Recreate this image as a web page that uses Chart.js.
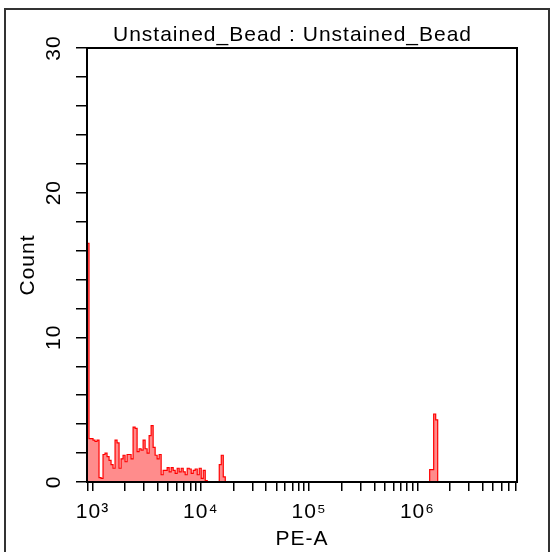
<!DOCTYPE html>
<html lang="en">
<head>
<meta charset="utf-8">
<title>Unstained_Bead : Unstained_Bead</title>
<script src="https://cdn.jsdelivr.net/npm/chart.js@4.4.1/dist/chart.umd.min.js"></script>
<style>
  html, body { margin: 0; padding: 0; background: #fff; }
  canvas { display: block; }
</style>
</head>
<body>
<canvas id="hist" width="552" height="552"></canvas>
<script>
// PE-A axis is log scaled, channels are equal steps in log10
const xMin = 890;
const xMax = 8.3e6;
const chanStart = 2.9494;   // log10 of first channel edge
const chanWidth = 0.0185;   // decades per channel

// counts per channel, three populated regions
const lowStart = 0;
const lowCounts = [16.5, 3.0, 3.0, 2.9, 2.8, 2.9, 0.3, 0.25, 1.9, 2.0,
                   1.75, 1.5, 1.2, 0.95, 2.9, 2.7, 0.95, 1.6, 1.85, 1.4,
                   1.9, 1.9, 1.6, 3.8, 3.7, 2.1, 2.3, 2.2, 2.9, 2.3,
                   2.0, 3.2, 3.9, 2.4, 1.85, 1.6, 1.9, 0.5, 0.8, 0.8,
                   1.0, 0.7, 1.0, 0.8, 0.6, 0.95, 0.7, 0.95, 0.7, 0.5,
                   0.95, 0.9, 0.6, 0.8, 0.9, 0.5, 0.95, 0.25, 0.8, 0.1];
const midStart = 66;
const midCounts = [1.2, 1.85, 0.35];
const highStart = 171;
const highCounts = [0.85, 0.85, 4.7, 4.3];

// axis ticks
const xDecades = [3, 4, 5, 6];
const xTickLabels = ['10³', '10⁴', '10⁵', '10⁶'];
const yTickValues = [0, 2, 4, 6, 8, 10, 12, 14, 16, 18, 20, 22, 24, 26, 28, 30];
const yLabelValues = [0, 10, 20, 30];

const FONT = '"Liberation Sans", Arial, sans-serif';
Chart.defaults.font.family = FONT;
Chart.defaults.font.size = 21;
Chart.defaults.color = '#000';

function edge(ch) { return Math.pow(10, chanStart + ch * chanWidth); }

var points = [];
function addGroup(start, counts) {
  counts.forEach(function (c, i) { points.push({x: edge(start + i), y: c}); });
  points.push({x: edge(start + counts.length), y: 0});
}
addGroup(lowStart, lowCounts);
addGroup(midStart, midCounts);
addGroup(highStart, highCounts);
points.push({x: xMax, y: 0});

// minor log ticks 1..9 x 10^n inside the range
var xTickValues = [];
for (var d = 2; d <= 6; d++) {
  for (var k = 1; k <= 9; k++) {
    var v = k * Math.pow(10, d);
    if (v >= xMin && v <= xMax) xTickValues.push(v);
  }
}

const frame = {
  id: 'frame',
  beforeUpdate(chart) { chart.ctx.letterSpacing = '1px'; },
  beforeDraw(chart) {
    const ctx = chart.ctx;
    ctx.letterSpacing = '1px';
    ctx.save();
    ctx.strokeStyle = '#333';
    ctx.lineWidth = 2;
    ctx.strokeRect(5, 9, 544, 560);
    ctx.fillStyle = '#000';
    ctx.font = '21px ' + FONT;
    ctx.textAlign = 'center';
    ctx.textBaseline = 'alphabetic';
    ctx.fillText('Unstained_Bead : Unstained_Bead', 292.5, 41);
    ctx.restore();
  },
  afterDatasetsDraw(chart) {
    const a = chart.chartArea, ctx = chart.ctx;
    ctx.save();
    ctx.strokeStyle = '#000';
    ctx.lineWidth = 2;
    ctx.strokeRect(a.left, a.top, a.right - a.left, a.bottom - a.top);
    ctx.restore();
  }
};

new Chart(document.getElementById('hist'), {
  type: 'line',
  data: {
    datasets: [{
      data: points,
      stepped: true,
      fill: 'origin',
      borderColor: '#ff0000',
      backgroundColor: 'rgba(255,0,0,0.45)',
      borderWidth: 1.2,
      pointRadius: 0
    }]
  },
  options: {
    responsive: false,
    animation: false,
    layout: { padding: { top: 48, right: 35, left: 0, bottom: 0 } },
    plugins: { legend: { display: false }, tooltip: { enabled: false } },
    scales: {
      x: {
        type: 'logarithmic',
        min: xMin,
        max: xMax,
        afterBuildTicks(scale) { scale.ticks = xTickValues.map(function (v) { return {value: v}; }); },
        afterFit(scale) { scale.height = 70; },
        ticks: {
          autoSkip: false, maxRotation: 0, minRotation: 0, padding: 9,
          callback(value) {
            const lg = Math.log10(value);
            const r = Math.round(lg);
            if (Math.abs(lg - r) < 1e-9 && xDecades.indexOf(r) >= 0) return xTickLabels[xDecades.indexOf(r)];
            return '';
          }
        },
        grid: { drawOnChartArea: false, tickLength: 9, color: '#000', lineWidth: 1.5 },
        border: { display: false },
        title: { display: true, text: 'PE-A', padding: { top: 0, bottom: 0 } }
      },
      y: {
        min: 0,
        max: 30,
        afterBuildTicks(scale) { scale.ticks = yTickValues.map(function (v) { return {value: v}; }); },
        afterFit(scale) { scale.width = 87; },
        ticks: {
          minRotation: 90, maxRotation: 90, crossAlign: 'center', padding: 9,
          callback(value) { return yLabelValues.indexOf(value) >= 0 ? String(value) : ''; }
        },
        grid: { drawOnChartArea: false, tickLength: 11, color: '#000', lineWidth: 1.5 },
        border: { display: false },
        title: { display: true, text: 'Count', padding: { top: 16, bottom: 0 } }
      }
    }
  },
  plugins: [frame]
});
</script>
</body>
</html>
